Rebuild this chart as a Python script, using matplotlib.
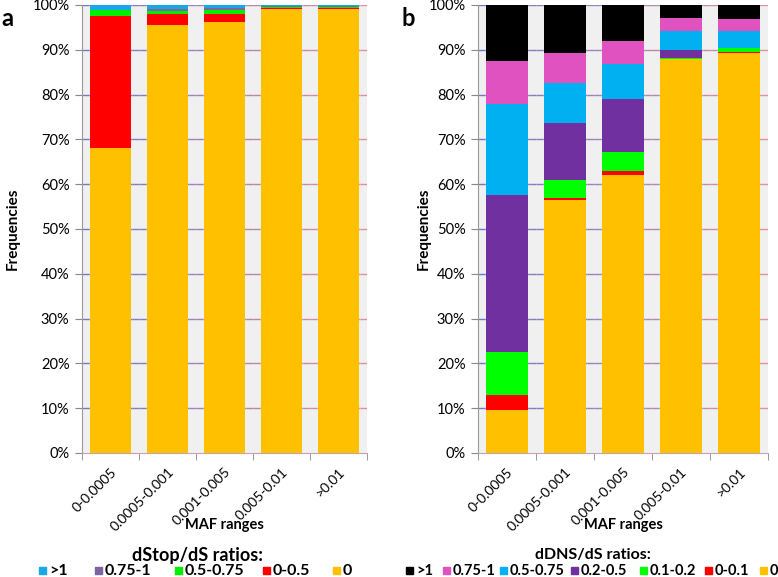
import matplotlib
matplotlib.use('Agg')
import matplotlib.pyplot as plt
import numpy as np
from matplotlib.collections import LineCollection
from matplotlib.patches import Rectangle
from matplotlib.transforms import ScaledTranslation
from matplotlib.colors import to_rgb

maf = ['0-0.0005', '0.0005-0.001', '0.001-0.005', '0.005-0.01', '>0.01']

# panel a: dStop/dS ratios (percent), bottom to top
stop_labels = ['0', '0-0.5', '0.5-0.75', '0.75-1', '>1']
stop_0 = [68.0, 95.6, 96.3, 99.2, 99.0]
stop_0_05 = [29.6, 2.3, 1.7, 0.1, 0.3]
stop_05_075 = [1.2, 0.8, 0.9, 0.3, 0.3]
stop_075_1 = [0.1, 0.5, 0.4, 0.1, 0.1]
stop_gt1 = [1.1, 0.8, 0.7, 0.3, 0.3]

# panel b: dDNS/dS ratios (percent), bottom to top
dns_labels = ['0', '0-0.1', '0.1-0.2', '0.2-0.5', '0.5-0.75', '0.75-1', '>1']
dns_0 = [9.6, 56.5, 62.1, 87.9, 89.2]
dns_0_01 = [3.3, 0.5, 0.8, 0.1, 0.4]
dns_01_02 = [9.7, 3.9, 4.2, 0.2, 0.7]
dns_02_05 = [35.1, 12.8, 11.9, 1.8, 0.1]
dns_05_075 = [20.1, 9.0, 7.8, 4.2, 3.9]
dns_075_1 = [9.8, 6.5, 5.2, 2.8, 2.6]
dns_gt1 = [12.4, 10.8, 8.0, 3.0, 3.1]

stop_colors = ['#FFC000', '#FF0000', '#00EE00', '#8064A2', '#1AA7E6']
dns_colors = ['#FFC000', '#FF0000', '#00FF00', '#7030A0', '#00B0F0', '#E052C0', '#000000']

plt.rcParams['font.family'] = ['Lato', 'DejaVu Sans']

W, H = 778, 577
fig = plt.figure(figsize=(W / 100, H / 100), dpi=100)
ax_a = fig.add_axes([82 / W, 1 - 453 / H, 285 / W, 448 / H])
ax_b = fig.add_axes([478 / W, 1 - 453 / H, 290 / W, 448 / H])


def grid_gradient(ax, ticks):
    # gridlines fade from blue-grey (left) to pinkish (right)
    c0, c1 = np.array(to_rgb('#7078C8')), np.array(to_rgb('#E0909A'))
    xs = np.linspace(-0.5, len(maf) - 0.5, 41)
    segs, cols = [], []
    for y in ticks[1:]:
        for i in range(len(xs) - 1):
            segs.append([(xs[i], y), (xs[i + 1], y)])
            cols.append(c0 + (c1 - c0) * i / (len(xs) - 2))
    ax.add_collection(LineCollection(segs, colors=cols, linewidths=1, zorder=1))


def draw(ax, series, colors, ylab_x):
    x = np.arange(len(maf))
    bottom = np.zeros(len(maf))
    for vals, c in zip(series, colors):
        ax.bar(x, vals, bottom=bottom, width=0.72, color=c, zorder=3)
        bottom += np.array(vals)
    ax.set_facecolor('#F0F0F0')
    ax.set_xlim(-0.5, len(maf) - 0.5)
    ax.set_ylim(0, 100)
    ticks = np.arange(0, 101, 10)
    ax.set_yticks(ticks)
    ax.set_yticklabels([f'{v}%' for v in ticks], fontsize=10.5)
    grid_gradient(ax, ticks)
    ax.set_xticks(x)
    ax.set_xticklabels(maf, rotation=45, ha='right', va='top', fontsize=10,
                       rotation_mode='anchor')
    for lab in ax.get_xticklabels():
        lab.set_transform(lab.get_transform() + ScaledTranslation(4 / 100, 0, fig.dpi_scale_trans))
    ax.set_xticks(np.arange(-0.5, len(maf)), minor=True)
    ax.tick_params(axis='x', which='major', length=0, pad=9)
    ax.tick_params(axis='x', which='minor', length=5, color='#888888')
    ax.tick_params(axis='y', length=5, color='#888888', pad=4)
    for s in ['top', 'right']:
        ax.spines[s].set_visible(False)
    ax.spines['left'].set_color('#999999')
    ax.spines['bottom'].set_color('#C8A0B0')
    ax.set_ylabel('Frequencies', fontsize=11, fontweight='bold')
    ax.yaxis.set_label_coords(ylab_x, 0.5)
    pos = ax.get_position()
    fig.text((pos.x0 + pos.x1) / 2, 1 - 525 / H, 'MAF ranges', fontsize=10.5,
             fontweight='bold', ha='center', va='center')


draw(ax_a, [stop_0, stop_0_05, stop_05_075, stop_075_1, stop_gt1], stop_colors, -0.218)
draw(ax_b, [dns_0, dns_0_01, dns_01_02, dns_02_05, dns_05_075, dns_075_1, dns_gt1],
     dns_colors, -0.162)

fig.text(1 / W, 1 - 18 / H, 'a', fontsize=17, fontweight='bold', va='center')
fig.text(401 / W, 1 - 18 / H, 'b', fontsize=17, fontweight='bold', va='center')


def legend_row(title, title_x, title_size, labels, colors, xs, size):
    fig.text(title_x / W, 1 - 555 / H, title, fontsize=title_size, fontweight='bold',
             ha='center', va='center')
    for lab, c, px in zip(labels, colors, xs):
        fig.patches.append(Rectangle((px / W, 1 - 574 / H), 7 / W, 7 / H, color=c,
                                     transform=fig.transFigure, figure=fig))
        fig.text((px + 10) / W, 1 - 575 / H, lab, fontsize=size, fontweight='bold',
                 ha='left', va='baseline')


legend_row('dStop/dS ratios:', 197, 13, stop_labels[::-1], stop_colors[::-1],
           [39, 95, 175, 263, 333], 11.5)
legend_row('dDNS/dS ratios:', 593, 11.5, dns_labels[::-1], dns_colors[::-1],
           [406, 443, 500, 571, 640, 705, 760], 10.5)

fig.savefig('out.png', dpi=100)
